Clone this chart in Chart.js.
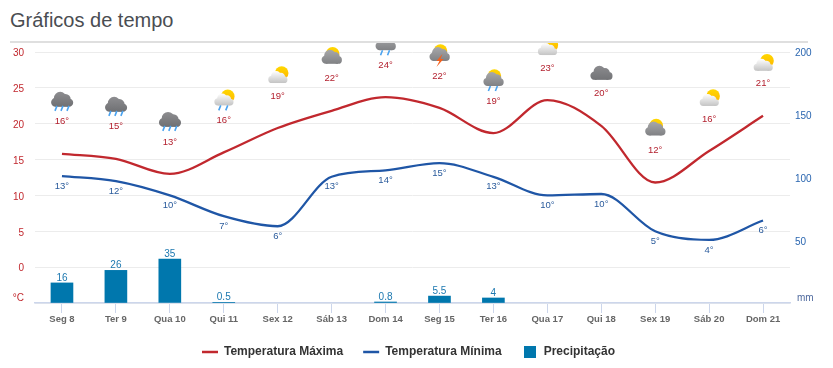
<!DOCTYPE html>
<html>
<head>
<meta charset="utf-8">
<script src="https://cdn.jsdelivr.net/npm/chart.js@4"></script>
<style>
	html, body { margin: 0; padding: 0; background: #fff; }
	#page { position: relative; width: 833px; height: 368px; overflow: hidden; }
	#title {
		position: absolute; left: 10px; top: 8px; width: 798px; height: 33px; margin: 0;
		font: normal 20px/25px "Liberation Sans", Arial, sans-serif; color: #4a4d52;
		border-bottom: 2px solid #dfdfdf;
	}
	#chart { position: absolute; left: 0; top: 43px; }
</style>
</head>
<body>
<div id="page">
	<h2 id="title">Gráficos de tempo</h2>
	<canvas id="chart" width="833" height="325"></canvas>
</div>
<script>
// Chart data
const CATEGORIES = ["Seg 8", "Ter 9", "Qua 10", "Qui 11", "Sex 12", "Sáb 13", "Dom 14", "Seg 15", "Ter 16", "Qua 17", "Qui 18", "Sex 19", "Sáb 20", "Dom 21"];
const TEMP_MAX = [15.8, 15.1, 13.0, 16.0, 19.4, 21.8, 23.7, 22.2, 18.7, 23.3, 19.7, 11.8, 16.2, 21.1];
const TEMP_MIN = [12.7, 12.0, 10.0, 7.1, 5.7, 12.6, 13.5, 14.5, 12.6, 10.0, 10.2, 5.0, 3.8, 6.5];
const MAX_LABELS = [16, 15, 13, 16, 19, 22, 24, 22, 19, 23, 20, 12, 16, 21];
const MIN_LABELS = [13, 12, 10, 7, 6, 13, 14, 15, 13, 10, 10, 5, 4, 6];
const PRECIP = [16, 26, 35, 0.5, null, null, 0.8, 5.5, 4, null, null, null, null, null];
const ICONS = ["rain", "rain", "rain", "sunRain", "sun", "sunGrey", "greyRain", "storm", "sunGreyRain", "sun", "cloud", "sunGrey", "sun", "sun"];

const FONT = '"Liberation Sans", Arial, sans-serif';
const RED = "#c1282e";
const BLUE = "#1f56a6";
const BAR = "#0077ad";
const AXIS = "#ccd6eb";

// Legend swatch for the bars, narrower than the line swatches
const barSwatch = document.createElement("canvas");
barSwatch.width = 12;
barSwatch.height = 12;
const swatchCtx = barSwatch.getContext("2d");
swatchCtx.fillStyle = BAR;
swatchCtx.fillRect(0, 0, 12, 12);

//---------------------------------------------------------
// Weather icons
//---------------------------------------------------------
const drawSun = (ctx, x, y) => {
	const g = ctx.createLinearGradient(0, y - 7, 0, y + 7);
	g.addColorStop(0, "#ffd800");
	g.addColorStop(1, "#ffb400");
	ctx.fillStyle = g;
	ctx.beginPath();
	ctx.arc(x, y, 6.8, 0, Math.PI * 2);
	ctx.fill();
};

const drawCloud = (ctx, x, bottom, w, h, top, low) => {
	const g = ctx.createLinearGradient(0, bottom - h, 0, bottom);
	g.addColorStop(0, top);
	g.addColorStop(1, low);
	ctx.fillStyle = g;
	ctx.beginPath();
	ctx.arc(x - w * 0.29, bottom - h * 0.3, h * 0.3, 0, Math.PI * 2);
	ctx.arc(x - w * 0.08, bottom - h * 0.58, h * 0.42, 0, Math.PI * 2);
	ctx.fill();
	ctx.beginPath();
	ctx.arc(x + w * 0.16, bottom - h * 0.5, h * 0.35, 0, Math.PI * 2);
	ctx.arc(x + w * 0.32, bottom - h * 0.28, h * 0.28, 0, Math.PI * 2);
	ctx.fill();
	ctx.fillRect(x - w * 0.29, bottom - h * 0.45, w * 0.61, h * 0.45);
};

const drawDrops = (ctx, x, y, offsets) => {
	ctx.strokeStyle = "#4aa3f0";
	ctx.lineWidth = 1.6;
	offsets.forEach((o) => {
		ctx.beginPath();
		ctx.moveTo(x + o + 1, y);
		ctx.lineTo(x + o - 1, y + 5);
		ctx.stroke();
	});
};

// y is the centre of the temperature label under the icon
const drawIcon = (ctx, name, x, y) => {
	if (name === "rain") {
		drawCloud(ctx, x, y - 15, 22, 15, "#8d8d90", "#6f7073");
		drawDrops(ctx, x, y - 16, [-6, 0, 6]);
	} else if (name === "cloud") {
		drawCloud(ctx, x, y - 14, 23, 14, "#8b8b8e", "#727376");
	} else if (name === "sun") {
		drawSun(ctx, x + 4, y - 23);
		drawCloud(ctx, x, y - 13, 20, 12, "#ffffff", "#c4c4c4");
	} else if (name === "sunRain") {
		drawSun(ctx, x + 4, y - 24);
		drawCloud(ctx, x, y - 15, 20, 12, "#ffffff", "#c4c4c4");
		drawDrops(ctx, x, y - 15, [-4, 3]);
	} else {
		// sun behind a grey cloud, with rain or lightning on some of them
		drawSun(ctx, x + 1, y - 25);
		drawCloud(ctx, x, y - 15, 20, 14, "#a8a8aa", "#808184");
		if (name === "greyRain" || name === "sunGreyRain") {
			drawDrops(ctx, x, y - 15, [-4, 3]);
		}
		if (name === "storm") {
			ctx.fillStyle = "#f4601c";
			ctx.beginPath();
			ctx.moveTo(x + 3, y - 22);
			ctx.lineTo(x - 3, y - 15);
			ctx.lineTo(x, y - 15);
			ctx.lineTo(x - 3, y - 9);
			ctx.lineTo(x + 4, y - 17);
			ctx.lineTo(x + 1, y - 17);
			ctx.closePath();
			ctx.fill();
		}
	}
};

//---------------------------------------------------------
// Labels over the marks and the unit labels on the axes
//---------------------------------------------------------
const markLabels = {
	id: "markLabels",
	afterLayout(chart) {
		// Legend row sits slightly left of the plot centre
		chart.legend.left -= 4;
		chart.legend.right -= 4;
	},
	afterDatasetsDraw(chart) {
		const { ctx, scales } = chart;
		const maxPts = chart.getDatasetMeta(0).data;
		const minPts = chart.getDatasetMeta(1).data;
		const bars = chart.getDatasetMeta(2).data;
		ctx.save();
		ctx.textAlign = "center";
		ctx.textBaseline = "middle";
		maxPts.forEach((pt, i) => {
			const labelY = pt.y - 32;
			drawIcon(ctx, ICONS[i], pt.x, labelY);
			ctx.font = "9.5px " + FONT;
			ctx.fillStyle = "#b3202e";
			ctx.fillText(MAX_LABELS[i] + "°", pt.x, labelY);
		});
		minPts.forEach((pt, i) => {
			ctx.font = "9.5px " + FONT;
			ctx.fillStyle = "#2a5b9c";
			ctx.fillText(MIN_LABELS[i] + "°", pt.x, pt.y + 10);
		});
		bars.forEach((bar, i) => {
			if (PRECIP[i] > 0) {
				ctx.font = "10px " + FONT;
				ctx.fillStyle = "#1c78b0";
				ctx.fillText(PRECIP[i], bar.x, bar.y - 5);
			}
		});
		// Unit labels sit a little above the baseline
		const base = scales.y.bottom - 5;
		ctx.font = "10px " + FONT;
		ctx.textAlign = "right";
		ctx.fillStyle = RED;
		ctx.fillText("°C", 24, base);
		ctx.textAlign = "left";
		ctx.fillStyle = "#4f6a9e";
		ctx.fillText("mm", 797, base);
		ctx.restore();
	},
};

// Chart config
const CHART_CONFIG = {
	type: "bar",
	data: {
		labels: CATEGORIES,
		datasets: [
			{
				type: "line",
				label: "Temperatura Máxima",
				data: TEMP_MAX,
				yAxisID: "y",
				borderColor: RED,
				backgroundColor: RED,
				borderWidth: 2.3,
				cubicInterpolationMode: "monotone",
				pointRadius: 0,
				clip: false,
				order: 1,
			},
			{
				type: "line",
				label: "Temperatura Mínima",
				data: TEMP_MIN,
				yAxisID: "y",
				borderColor: BLUE,
				backgroundColor: BLUE,
				borderWidth: 2.3,
				cubicInterpolationMode: "monotone",
				pointRadius: 0,
				clip: false,
				order: 2,
			},
			{
				label: "Precipitação",
				data: PRECIP,
				yAxisID: "y1",
				backgroundColor: BAR,
				barThickness: 22,
				order: 3,
			},
		],
	},
	options: {
		responsive: false,
		animation: false,
		layout: {
			autoPadding: false,
			padding: { top: 9, bottom: 0 },
		},
		scales: {
			x: {
				border: { color: AXIS, width: 1.5 },
				grid: { offset: false, drawOnChartArea: false, drawTicks: true, tickLength: 10, color: AXIS },
				ticks: {
					color: "#666666",
					font: { family: FONT, size: 9.5, weight: "bold" },
					padding: 1,
					maxRotation: 0,
					autoSkip: false,
				},
				afterFit: (scale) => { scale.height = 23; },
			},
			y: {
				position: "left",
				min: -5,
				max: 30,
				border: { display: false },
				// the tick marks are transparent, they only push the labels away from the plot
				grid: { color: "#ececec", lineWidth: 1, drawTicks: true, tickLength: 11, tickColor: "transparent" },
				ticks: {
					stepSize: 5,
					color: RED,
					padding: 0,
					labelOffset: 1.5,
					font: { family: FONT, size: 10 },
					callback: (v) => (v === -5 ? "" : v),
				},
				afterFit: (scale) => { scale.width = 35; },
			},
			y1: {
				position: "right",
				min: 0,
				max: 200,
				border: { display: false },
				grid: { drawOnChartArea: false, drawTicks: true, tickLength: 5, tickColor: "transparent" },
				ticks: {
					stepSize: 50,
					color: "#2a66b0",
					padding: 0,
					labelOffset: 1.5,
					font: { family: FONT, size: 10 },
					callback: (v) => (v === 0 ? "" : v),
				},
				afterFit: (scale) => { scale.width = 43; },
			},
		},
		plugins: {
			tooltip: { enabled: false },
			legend: {
				position: "bottom",
				fullSize: false,
				labels: {
					color: "#333333",
					font: { family: FONT, size: 12, weight: "bold" },
					usePointStyle: true,
					pointStyleWidth: 16,
					boxHeight: 12,
					padding: 20,
					generateLabels: (chart) => chart.data.datasets.map((d, i) => ({
						text: d.label,
						datasetIndex: i,
						fillStyle: d.backgroundColor,
						strokeStyle: d.type === "line" ? d.borderColor : d.backgroundColor,
						lineWidth: d.type === "line" ? 2.5 : 0,
						pointStyle: d.type === "line" ? "line" : barSwatch,
						fontColor: "#333333",
					})),
				},
			},
		},
	},
	plugins: [markLabels],
};

// Chart init
const chartEl = document.getElementById("chart");
window.weatherChart = new Chart(chartEl, CHART_CONFIG);
</script>
</body>
</html>
